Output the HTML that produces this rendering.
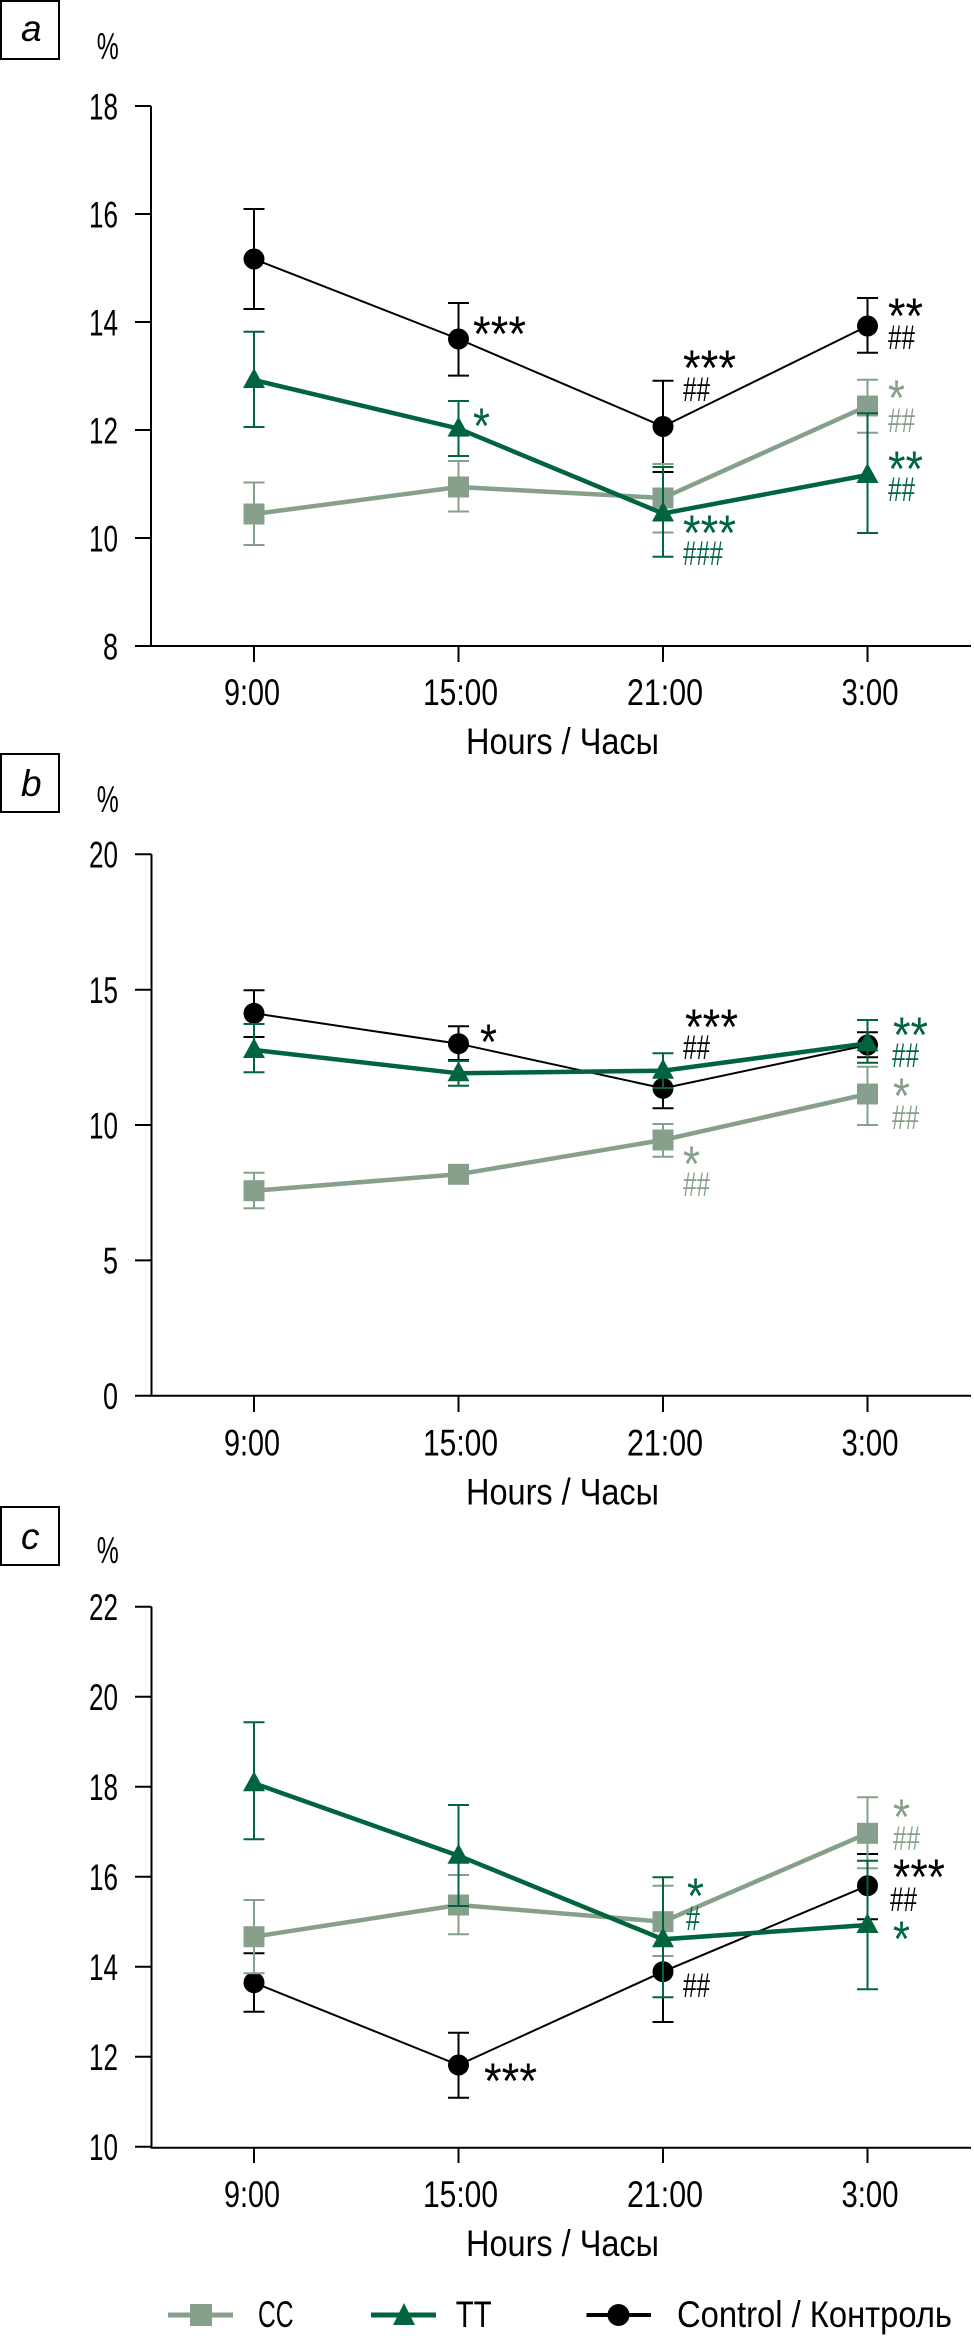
<!DOCTYPE html>
<html>
<head>
<meta charset="utf-8">
<style>
html,body{margin:0;padding:0;background:#fff;}
svg{display:block;}
text{font-family:"Liberation Sans","DejaVu Sans",sans-serif;}
.lab{font-size:37.5px;fill:#000;}
.ast{font-size:50px;}
.hash{font-size:34px;}
.box{font-size:37px;font-style:italic;}
</style>
</head>
<body>
<svg width="974" height="2338" viewBox="0 0 974 2338" xmlns="http://www.w3.org/2000/svg">
<rect x="0" y="0" width="974" height="2338" fill="#fff"/>

<!-- ================= PANEL A ================= -->
<rect x="1" y="1" width="58" height="58" fill="none" stroke="#000" stroke-width="2"/>
<text class="box" x="21" y="41">a</text>
<text class="lab" x="96.7" y="59" font-size="39" textLength="22" lengthAdjust="spacingAndGlyphs">%</text>

<g stroke="#000" stroke-width="2" fill="none">
  <path d="M151 106 V646 H971"/>
  <path d="M135 106 H151 M135 214 H151 M135 322 H151 M135 430 H151 M135 538 H151 M135 646 H151"/>
  <path d="M254 646 V662 M458.5 646 V662 M663 646 V662 M867.5 646 V662"/>
</g>
<g class="lab" text-anchor="end">
  <text x="118" y="119.3" textLength="29" lengthAdjust="spacingAndGlyphs">18</text>
  <text x="118" y="227.3" textLength="29" lengthAdjust="spacingAndGlyphs">16</text>
  <text x="118" y="335.3" textLength="29" lengthAdjust="spacingAndGlyphs">14</text>
  <text x="118" y="443.3" textLength="29" lengthAdjust="spacingAndGlyphs">12</text>
  <text x="118" y="551.3" textLength="29" lengthAdjust="spacingAndGlyphs">10</text>
  <text x="118" y="659.3" textLength="15" lengthAdjust="spacingAndGlyphs">8</text>
</g>
<g class="lab" text-anchor="middle">
  <text x="252" y="705" textLength="56" lengthAdjust="spacingAndGlyphs">9:00</text>
  <text x="460.5" y="705" textLength="75" lengthAdjust="spacingAndGlyphs">15:00</text>
  <text x="665" y="705" textLength="76" lengthAdjust="spacingAndGlyphs">21:00</text>
  <text x="870" y="705" textLength="57" lengthAdjust="spacingAndGlyphs">3:00</text>
  <text x="562.5" y="754" textLength="193" lengthAdjust="spacingAndGlyphs">Hours / Часы</text>
</g>

<!-- control a -->
<g stroke="#000" stroke-width="2" fill="none">
  <path d="M254 209 V309 M243.5 209 H264.5 M243.5 309 H264.5"/>
  <path d="M458.5 303 V375.6 M448 303 H469 M448 375.6 H469"/>
  <path d="M663 380.7 V472 M652.5 380.7 H673.5 M652.5 472 H673.5"/>
  <path d="M867.5 298 V352.7 M857 298 H878 M857 352.7 H878"/>
  <polyline points="254,259 458.5,339 663,426.5 867.5,326"/>
</g>
<g fill="#000">
  <circle cx="254" cy="259" r="10.5"/><circle cx="458.5" cy="339" r="10.5"/>
  <circle cx="663" cy="426.5" r="10.5"/><circle cx="867.5" cy="326" r="10.5"/>
</g>
<!-- CC a -->
<g stroke="#86a08b" stroke-width="2" fill="none">
  <path d="M254 482.5 V545 M243.5 482.5 H264.5 M243.5 545 H264.5"/>
  <path d="M458.5 461 V511.5 M448 461 H469 M448 511.5 H469"/>
  <path d="M663 464 V532.5 M652.5 464 H673.5 M652.5 532.5 H673.5"/>
  <path d="M867.5 379.7 V432.7 M857 379.7 H878 M857 432.7 H878"/>
  <polyline points="254,514 458.5,487 663,498 867.5,406" stroke-width="4.5"/>
</g>
<g fill="#86a08b">
  <rect x="243.5" y="503.5" width="21" height="21"/><rect x="448" y="476.5" width="21" height="21"/>
  <rect x="652.5" y="487.5" width="21" height="21"/><rect x="857" y="395.5" width="21" height="21"/>
</g>
<!-- TT a -->
<g stroke="#00643f" stroke-width="2" fill="none">
  <path d="M254 331.8 V427 M243.5 331.8 H264.5 M243.5 427 H264.5"/>
  <path d="M458.5 401 V456 M448 401 H469 M448 456 H469"/>
  <path d="M663 467 V556.7 M652.5 467 H673.5 M652.5 556.7 H673.5"/>
  <path d="M867.5 413.3 V533 M857 413.3 H878 M857 533 H878"/>
  <polyline points="254,380 458.5,428.6 663,513.5 867.5,475" stroke-width="4.5"/>
</g>
<g fill="#00643f">
  <polygon points="254,368 243,388 265,388"/><polygon points="458.5,416.6 447.5,436.6 469.5,436.6"/>
  <polygon points="663,501.5 652,521.5 674,521.5"/><polygon points="867.5,463 856.5,483 878.5,483"/>
</g>
<!-- annotations a -->
<g fill="#000">
  <text class="ast" x="473" y="351" textLength="53" lengthAdjust="spacingAndGlyphs">***</text>
  <text class="ast" x="683" y="385" textLength="53" lengthAdjust="spacingAndGlyphs">***</text>
  <text class="hash" x="683" y="401" textLength="27" lengthAdjust="spacingAndGlyphs">##</text>
  <text class="ast" x="888" y="333" textLength="35" lengthAdjust="spacingAndGlyphs">**</text>
  <text class="hash" x="888" y="349" textLength="27" lengthAdjust="spacingAndGlyphs">##</text>
</g>
<g fill="#00643f">
  <text class="ast" x="473" y="443" textLength="17" lengthAdjust="spacingAndGlyphs">*</text>
  <text class="ast" x="683" y="550" textLength="53" lengthAdjust="spacingAndGlyphs">***</text>
  <text class="hash" x="683" y="565" textLength="40" lengthAdjust="spacingAndGlyphs">###</text>
  <text class="ast" x="888" y="486" textLength="35" lengthAdjust="spacingAndGlyphs">**</text>
  <text class="hash" x="888" y="501" textLength="27" lengthAdjust="spacingAndGlyphs">##</text>
</g>
<g fill="#86a08b">
  <text class="ast" x="888" y="415" textLength="17" lengthAdjust="spacingAndGlyphs">*</text>
  <text class="hash" x="888" y="432" textLength="27" lengthAdjust="spacingAndGlyphs">##</text>
</g>

<!-- ================= PANEL B ================= -->
<rect x="1" y="754" width="58" height="58" fill="none" stroke="#000" stroke-width="2"/>
<text class="box" x="21" y="796">b</text>
<text class="lab" x="96.7" y="812" font-size="39" textLength="22" lengthAdjust="spacingAndGlyphs">%</text>

<g stroke="#000" stroke-width="2" fill="none">
  <path d="M151.5 854.3 V1395.7 H971"/>
  <path d="M135 854.3 H151.5 M135 989.7 H151.5 M135 1125 H151.5 M135 1260.4 H151.5 M135 1395.7 H151.5"/>
  <path d="M254 1395.7 V1412 M458.5 1395.7 V1412 M663 1395.7 V1412 M867.5 1395.7 V1412"/>
</g>
<g class="lab" text-anchor="end">
  <text x="118" y="867.6" textLength="29" lengthAdjust="spacingAndGlyphs">20</text>
  <text x="118" y="1003" textLength="29" lengthAdjust="spacingAndGlyphs">15</text>
  <text x="118" y="1138.3" textLength="29" lengthAdjust="spacingAndGlyphs">10</text>
  <text x="118" y="1273.7" textLength="15" lengthAdjust="spacingAndGlyphs">5</text>
  <text x="118" y="1409" textLength="15" lengthAdjust="spacingAndGlyphs">0</text>
</g>
<g class="lab" text-anchor="middle">
  <text x="252" y="1455.7" textLength="56" lengthAdjust="spacingAndGlyphs">9:00</text>
  <text x="460.5" y="1455.7" textLength="75" lengthAdjust="spacingAndGlyphs">15:00</text>
  <text x="665" y="1455.7" textLength="76" lengthAdjust="spacingAndGlyphs">21:00</text>
  <text x="870" y="1455.7" textLength="57" lengthAdjust="spacingAndGlyphs">3:00</text>
  <text x="562.5" y="1504.7" textLength="193" lengthAdjust="spacingAndGlyphs">Hours / Часы</text>
</g>

<!-- control b -->
<g stroke="#000" stroke-width="2" fill="none">
  <path d="M254 990.3 V1037 M243.5 990.3 H264.5 M243.5 1037 H264.5"/>
  <path d="M458.5 1026.3 V1060 M448 1026.3 H469 M448 1060 H469"/>
  <path d="M663 1070 V1108.3 M652.5 1070 H673.5 M652.5 1108.3 H673.5"/>
  <path d="M867.5 1032.3 V1057.3 M857 1032.3 H878 M857 1057.3 H878"/>
  <polyline points="254,1013.3 458.5,1043.7 663,1088.3 867.5,1045"/>
</g>
<g fill="#000">
  <circle cx="254" cy="1013.3" r="10.5"/><circle cx="458.5" cy="1043.7" r="10.5"/>
  <circle cx="663" cy="1088.3" r="10.5"/><circle cx="867.5" cy="1045" r="10.5"/>
</g>
<!-- CC b -->
<g stroke="#86a08b" stroke-width="2" fill="none">
  <path d="M254 1172.7 V1208.3 M243.5 1172.7 H264.5 M243.5 1208.3 H264.5"/>
  <path d="M458.5 1166 V1182 M448 1166 H469 M448 1182 H469"/>
  <path d="M663 1124 V1156.7 M652.5 1124 H673.5 M652.5 1156.7 H673.5"/>
  <path d="M867.5 1066.7 V1125 M857 1066.7 H878 M857 1125 H878"/>
  <polyline points="254,1190.7 458.5,1174.3 663,1140 867.5,1094" stroke-width="4.5"/>
</g>
<g fill="#86a08b">
  <rect x="243.5" y="1180.2" width="21" height="21"/><rect x="448" y="1163.8" width="21" height="21"/>
  <rect x="652.5" y="1129.5" width="21" height="21"/><rect x="857" y="1083.5" width="21" height="21"/>
</g>
<!-- TT b -->
<g stroke="#00643f" stroke-width="2" fill="none">
  <path d="M254 1024 V1072.3 M243.5 1024 H264.5 M243.5 1072.3 H264.5"/>
  <path d="M458.5 1061 V1085.7 M448 1061 H469 M448 1085.7 H469"/>
  <path d="M663 1053.3 V1088 M652.5 1053.3 H673.5 M652.5 1088 H673.5"/>
  <path d="M867.5 1020 V1062.7 M857 1020 H878 M857 1062.7 H878"/>
  <polyline points="254,1050 458.5,1073.3 663,1070.7 867.5,1043.3" stroke-width="4.5"/>
</g>
<g fill="#00643f">
  <polygon points="254,1038 243,1058 265,1058"/><polygon points="458.5,1061.3 447.5,1081.3 469.5,1081.3"/>
  <polygon points="663,1058.7 652,1078.7 674,1078.7"/><polygon points="867.5,1031.3 856.5,1051.3 878.5,1051.3"/>
</g>
<!-- annotations b -->
<g fill="#000">
  <text class="ast" x="480" y="1059" textLength="17" lengthAdjust="spacingAndGlyphs">*</text>
  <text class="ast" x="685" y="1044" textLength="53" lengthAdjust="spacingAndGlyphs">***</text>
  <text class="hash" x="683" y="1059" textLength="27" lengthAdjust="spacingAndGlyphs">##</text>
</g>
<g fill="#86a08b">
  <text class="ast" x="683" y="1181" textLength="17" lengthAdjust="spacingAndGlyphs">*</text>
  <text class="hash" x="683" y="1196" textLength="27" lengthAdjust="spacingAndGlyphs">##</text>
  <text class="ast" x="893" y="1113" textLength="17" lengthAdjust="spacingAndGlyphs">*</text>
  <text class="hash" x="892" y="1129" textLength="27" lengthAdjust="spacingAndGlyphs">##</text>
</g>
<g fill="#00643f">
  <text class="ast" x="893" y="1052" textLength="35" lengthAdjust="spacingAndGlyphs">**</text>
  <text class="hash" x="892" y="1067" textLength="27" lengthAdjust="spacingAndGlyphs">##</text>
</g>

<!-- ================= PANEL C ================= -->
<rect x="1" y="1507" width="58" height="58" fill="none" stroke="#000" stroke-width="2"/>
<text class="box" x="21" y="1549">c</text>
<text class="lab" x="96.7" y="1563" font-size="39" textLength="22" lengthAdjust="spacingAndGlyphs">%</text>

<g stroke="#000" stroke-width="2" fill="none">
  <path d="M151.5 1606.7 V2147.7 H971"/>
  <path d="M135 1606.7 H151.5 M135 1696.7 H151.5 M135 1786.7 H151.5 M135 1876.7 H151.5 M135 1966.7 H151.5 M135 2056.7 H151.5 M135 2146.7 H151.5"/>
  <path d="M254 2147.7 V2163 M458.5 2147.7 V2163 M663 2147.7 V2163 M867.5 2147.7 V2163"/>
</g>
<g class="lab" text-anchor="end">
  <text x="118" y="1620" textLength="29" lengthAdjust="spacingAndGlyphs">22</text>
  <text x="118" y="1710" textLength="29" lengthAdjust="spacingAndGlyphs">20</text>
  <text x="118" y="1800" textLength="29" lengthAdjust="spacingAndGlyphs">18</text>
  <text x="118" y="1890" textLength="29" lengthAdjust="spacingAndGlyphs">16</text>
  <text x="118" y="1980" textLength="29" lengthAdjust="spacingAndGlyphs">14</text>
  <text x="118" y="2070" textLength="29" lengthAdjust="spacingAndGlyphs">12</text>
  <text x="118" y="2160" textLength="29" lengthAdjust="spacingAndGlyphs">10</text>
</g>
<g class="lab" text-anchor="middle">
  <text x="252" y="2207" textLength="56" lengthAdjust="spacingAndGlyphs">9:00</text>
  <text x="460.5" y="2207" textLength="75" lengthAdjust="spacingAndGlyphs">15:00</text>
  <text x="665" y="2207" textLength="76" lengthAdjust="spacingAndGlyphs">21:00</text>
  <text x="870" y="2207" textLength="57" lengthAdjust="spacingAndGlyphs">3:00</text>
  <text x="562.5" y="2256" textLength="193" lengthAdjust="spacingAndGlyphs">Hours / Часы</text>
</g>

<!-- control c -->
<g stroke="#000" stroke-width="2" fill="none">
  <path d="M254 1953.3 V2011.7 M243.5 1953.3 H264.5 M243.5 2011.7 H264.5"/>
  <path d="M458.5 2032.7 V2097.7 M448 2032.7 H469 M448 2097.7 H469"/>
  <path d="M663 1914.3 V2022 M652.5 1914.3 H673.5 M652.5 2022 H673.5"/>
  <path d="M867.5 1854 V1919.3 M857 1854 H878 M857 1919.3 H878"/>
  <polyline points="254,1982.7 458.5,2065 663,1971.7 867.5,1885.7"/>
</g>
<g fill="#000">
  <circle cx="254" cy="1982.7" r="10.5"/><circle cx="458.5" cy="2065" r="10.5"/>
  <circle cx="663" cy="1971.7" r="10.5"/><circle cx="867.5" cy="1885.7" r="10.5"/>
</g>
<!-- CC c -->
<g stroke="#86a08b" stroke-width="2" fill="none">
  <path d="M254 1900 V1973.3 M243.5 1900 H264.5 M243.5 1973.3 H264.5"/>
  <path d="M458.5 1875 V1934.3 M448 1875 H469 M448 1934.3 H469"/>
  <path d="M663 1885.7 V1956 M652.5 1885.7 H673.5 M652.5 1956 H673.5"/>
  <path d="M867.5 1797.3 V1868.3 M857 1797.3 H878 M857 1868.3 H878"/>
  <polyline points="254,1936.7 458.5,1905 663,1921.7 867.5,1833.3" stroke-width="4.5"/>
</g>
<g fill="#86a08b">
  <rect x="243.5" y="1926.2" width="21" height="21"/><rect x="448" y="1894.5" width="21" height="21"/>
  <rect x="652.5" y="1911.2" width="21" height="21"/><rect x="857" y="1822.8" width="21" height="21"/>
</g>
<!-- TT c -->
<g stroke="#00643f" stroke-width="2" fill="none">
  <path d="M254 1722.3 V1839.3 M243.5 1722.3 H264.5 M243.5 1839.3 H264.5"/>
  <path d="M458.5 1805 V1906 M448 1805 H469 M448 1906 H469"/>
  <path d="M663 1877.3 V1997.3 M652.5 1877.3 H673.5 M652.5 1997.3 H673.5"/>
  <path d="M867.5 1860.7 V1989.3 M857 1860.7 H878 M857 1989.3 H878"/>
  <polyline points="254,1783.3 458.5,1855.7 663,1939.3 867.5,1925" stroke-width="4.5"/>
</g>
<g fill="#00643f">
  <polygon points="254,1771.3 243,1791.3 265,1791.3"/><polygon points="458.5,1843.7 447.5,1863.7 469.5,1863.7"/>
  <polygon points="663,1927.3 652,1947.3 674,1947.3"/><polygon points="867.5,1913 856.5,1933 878.5,1933"/>
</g>
<!-- annotations c -->
<g fill="#000">
  <text class="ast" x="484" y="2098" textLength="53" lengthAdjust="spacingAndGlyphs">***</text>
  <text class="hash" x="683" y="1997" textLength="27" lengthAdjust="spacingAndGlyphs">##</text>
  <text class="ast" x="893" y="1894" textLength="52" lengthAdjust="spacingAndGlyphs">***</text>
  <text class="hash" x="890" y="1911" textLength="27" lengthAdjust="spacingAndGlyphs">##</text>
</g>
<g fill="#00643f">
  <text class="ast" x="687" y="1913" textLength="17" lengthAdjust="spacingAndGlyphs">*</text>
  <text class="hash" x="686" y="1930" textLength="14" lengthAdjust="spacingAndGlyphs">#</text>
  <text class="ast" x="893" y="1956" textLength="17" lengthAdjust="spacingAndGlyphs">*</text>
</g>
<g fill="#86a08b">
  <text class="ast" x="893" y="1834" textLength="17" lengthAdjust="spacingAndGlyphs">*</text>
  <text class="hash" x="893" y="1850" textLength="27" lengthAdjust="spacingAndGlyphs">##</text>
</g>

<!-- ================= LEGEND ================= -->
<line x1="168" y1="2315" x2="233" y2="2315" stroke="#86a08b" stroke-width="5"/>
<rect x="190" y="2304" width="22" height="22" fill="#86a08b"/>
<text class="lab" x="258" y="2327" textLength="35.5" lengthAdjust="spacingAndGlyphs">CC</text>

<line x1="371" y1="2315" x2="436" y2="2315" stroke="#00643f" stroke-width="5"/>
<polygon points="404,2303 393,2325 415,2325" fill="#00643f"/>
<text class="lab" x="455.7" y="2327" textLength="36" lengthAdjust="spacingAndGlyphs">TT</text>

<line x1="586.5" y1="2315" x2="651" y2="2315" stroke="#000" stroke-width="4"/>
<circle cx="618.5" cy="2315" r="11" fill="#000"/>
<text class="lab" x="677" y="2327" textLength="275" lengthAdjust="spacingAndGlyphs">Control / Контроль</text>
</svg>
</body>
</html>
